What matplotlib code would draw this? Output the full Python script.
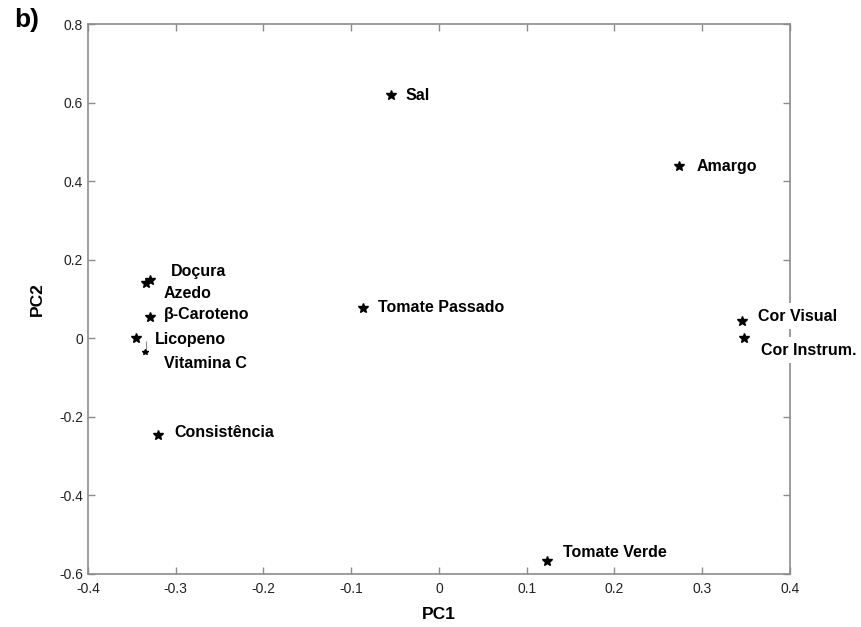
import numpy as np
import matplotlib
matplotlib.use('Agg')
import matplotlib.pyplot as plt

plt.rcParams['font.family'] = ['Liberation Sans', 'DejaVu Sans']

# loadings on the first two principal components
atributos = ['Doçura', 'Azedo', 'β-Caroteno', 'Licopeno', 'Vitamina C',
             'Consistência', 'Tomate Passado', 'Sal', 'Amargo',
             'Cor Visual', 'Cor Instrum.', 'Tomate Verde']
pc1 = [-0.329, -0.334, -0.329, -0.345, -0.335, -0.320,
       -0.087, -0.055, 0.274, 0.345, 0.348, 0.123]
pc2 = [0.149, 0.140, 0.053, 0.000, -0.034, -0.246,
       0.078, 0.620, 0.438, 0.043, 0.000, -0.567]

# label offsets in pixels (dx, dy)
offsets = [(21, 8), (18, -10), (14, 3), (19, -1), (19, -12), (16, 2),
           (15, 0), (15, 0), (17, 0), (16, 5), (17, -12), (16, 8)]

cinza = '#8c8c8c'

fig = plt.figure(figsize=(8.61, 6.27), dpi=100)
ax = fig.add_axes([0.1022, 0.0853, 0.8153, 0.8757])

for i, nome in enumerate(atributos):
    ms = 4 if nome == 'Vitamina C' else 7
    ax.plot(pc1[i], pc2[i], marker='*', color='black', markersize=ms,
            linestyle='none', zorder=3)
    ax.annotate(nome, (pc1[i], pc2[i]), xytext=offsets[i],
                textcoords='offset pixels', fontsize=11.5, fontweight='bold',
                ha='left', va='center', color='black', zorder=5,
                annotation_clip=False,
                bbox=dict(boxstyle='square,pad=0.35', fc='white', ec='none'))

# short stem above the Vitamina C point
iv = atributos.index('Vitamina C')
ax.vlines(pc1[iv] + 0.001, pc2[iv], pc2[iv] + 0.028, color=cinza,
          linewidth=0.8, zorder=2)

ax.set_xlim(-0.4, 0.4)
ax.set_ylim(-0.6, 0.8)
ax.set_xticks(np.arange(-0.4, 0.41, 0.1))
ax.set_yticks(np.arange(-0.6, 0.81, 0.2))
ax.set_xticklabels(['-0.4', '-0.3', '-0.2', '-0.1', '0', '0.1', '0.2', '0.3', '0.4'])
ax.set_yticklabels(['-0.6', '-0.4', '-0.2', '0', '0.2', '0.4', '0.6', '0.8'])

for s in ax.spines.values():
    s.set_color(cinza)
    s.set_linewidth(1.2)
ax.tick_params(direction='in', length=5, width=1, color=cinza,
               labelsize=10, labelcolor='#222222', top=True, right=True)
ax.tick_params(axis='x', pad=6)

ax.set_xlabel('PC1', fontsize=12.5, fontweight='bold', labelpad=8)
ax.set_ylabel('PC2', fontsize=12.5, fontweight='bold', labelpad=10)

fig.text(0.017, 0.988, 'b)', fontsize=19, fontweight='bold', ha='left', va='top')

fig.savefig('out.png', dpi=100)
